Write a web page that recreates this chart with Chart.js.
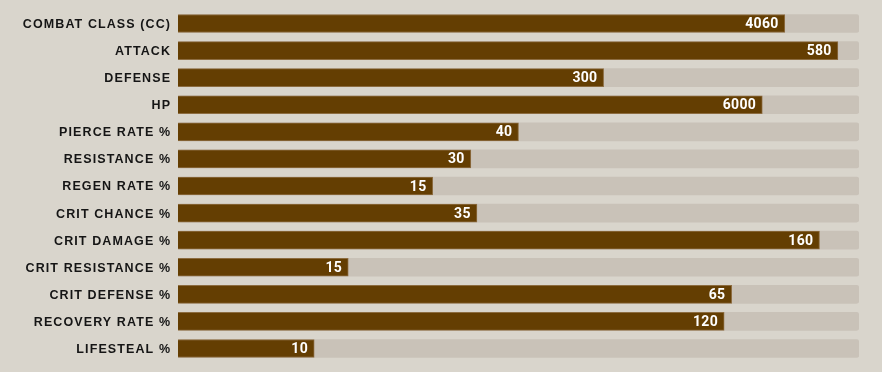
<!DOCTYPE html>
<html>
<head>
<meta charset="utf-8">
<script src="https://cdn.jsdelivr.net/npm/chart.js@4"></script>
<style>
  html, body { margin: 0; padding: 0; background: #d9d5cc; }
  #wrap { width: 882px; height: 372px; position: relative; }
</style>
</head>
<body>
<div id="wrap"><canvas id="statChart"></canvas></div>
<script>
const stats = ["COMBAT CLASS (CC)", "ATTACK", "DEFENSE", "HP", "PIERCE RATE %", "RESISTANCE %",
  "REGEN RATE %", "CRIT CHANCE %", "CRIT DAMAGE %", "CRIT RESISTANCE %", "CRIT DEFENSE %",
  "RECOVERY RATE %", "LIFESTEAL %"];
const values = [4060, 580, 300, 6000, 40, 30, 15, 35, 160, 15, 65, 120, 10];
// how full each bar is, in percent of the track
const fillPct = [89.1, 96.9, 62.5, 85.8, 50.0, 43.0, 37.4, 43.9, 94.2, 25.0, 81.3, 80.2, 20.0];
const trackPct = stats.map(() => 100);

// category labels drawn by hand so they can be letter-spaced like the original
const statLabels = {
  id: "statLabels",
  afterDraw(chart) {
    const ctx = chart.ctx;
    const y = chart.scales.y;
    ctx.save();
    ctx.font = "bold 12.5px 'Liberation Sans', Arial";
    ctx.fillStyle = "#151515";
    ctx.textBaseline = "middle";
    ctx.letterSpacing = "1.1px";
    stats.forEach((s, i) => {
      const w = ctx.measureText(s).width - 1.1;
      ctx.fillText(s, 170 - w, y.getPixelForTick(i) + 1);
    });
    ctx.restore();
  }
};

const valueLabels = {
  id: "valueLabels",
  afterDatasetsDraw(chart) {
    const ctx = chart.ctx;
    const meta = chart.getDatasetMeta(0);
    ctx.save();
    ctx.font = "bold 14px Roboto";
    ctx.fillStyle = "#ffffff";
    ctx.textBaseline = "alphabetic";
    ctx.letterSpacing = "0.3px";
    meta.data.forEach((bar, i) => {
      const s = String(values[i]);
      const w = ctx.measureText(s).width - 0.3;
      ctx.fillText(s, bar.x - 6.5 - w, bar.y + 4.5);
    });
    ctx.restore();
  }
};

new Chart(document.getElementById("statChart"), {
  type: "bar",
  data: {
    labels: stats,
    datasets: [
      {
        data: fillPct,
        backgroundColor: "#643e02",
        borderColor: "#8c6c40",
        borderWidth: { right: 1, top: 1, bottom: 1, left: 0 },
        barThickness: 18,
        grouped: false,
        order: 0,
      },
      {
        data: trackPct,
        backgroundColor: "#c9c2b8",
        borderRadius: 3,
        borderSkipped: false,
        barThickness: 18,
        grouped: false,
        order: 1,
      }
    ]
  },
  options: {
    indexAxis: "y",
    responsive: true,
    maintainAspectRatio: false,
    animation: false,
    layout: { padding: { top: 10, bottom: 10, left: 0, right: 23 } },
    plugins: { legend: { display: false }, tooltip: { enabled: false } },
    scales: {
      x: { display: false, min: 0, max: 100 },
      y: {
        grid: { display: false, drawTicks: false },
        border: { display: false },
        ticks: { display: false },
        afterFit(scale) { scale.width = 178; }
      }
    }
  },
  plugins: [valueLabels, statLabels]
});
</script>
</body>
</html>
